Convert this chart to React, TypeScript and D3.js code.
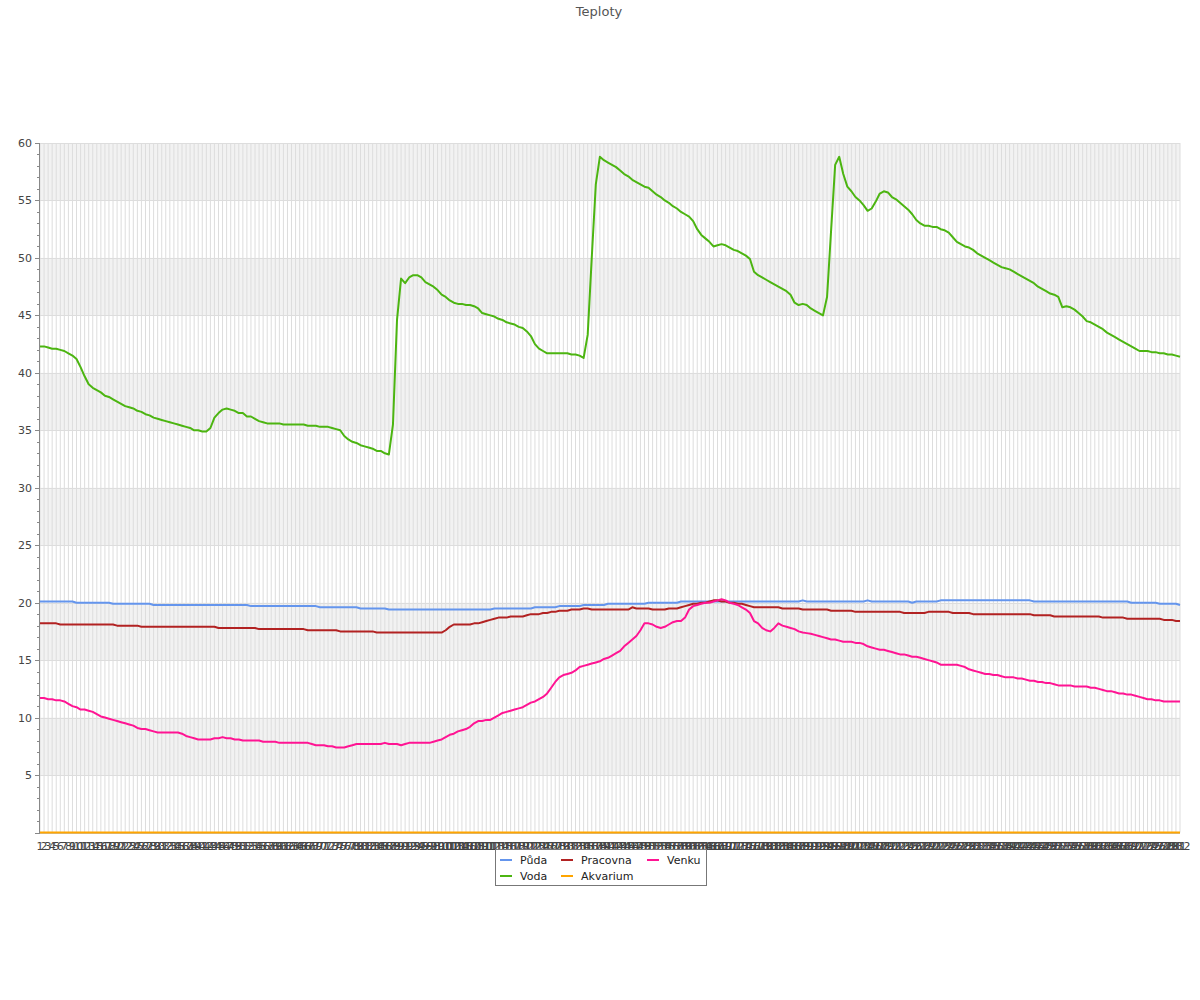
import { useEffect, useRef } from "react";
import * as d3 from "d3";

// category labels 1..282 (one per measurement)
const categories = d3.range(1, 283).map(String);

const puda = [
  20.1, 20.1, 20.1, 20.1, 20.1, 20.1, 20.1, 20.1, 20.1, 20.0,
  20.0, 20.0, 20.0, 20.0, 20.0, 20.0, 20.0, 20.0, 19.9, 19.9,
  19.9, 19.9, 19.9, 19.9, 19.9, 19.9, 19.9, 19.9, 19.8, 19.8,
  19.8, 19.8, 19.8, 19.8, 19.8, 19.8, 19.8, 19.8, 19.8, 19.8,
  19.8, 19.8, 19.8, 19.8, 19.8, 19.8, 19.8, 19.8, 19.8, 19.8,
  19.8, 19.8, 19.7, 19.7, 19.7, 19.7, 19.7, 19.7, 19.7, 19.7,
  19.7, 19.7, 19.7, 19.7, 19.7, 19.7, 19.7, 19.7, 19.7, 19.6,
  19.6, 19.6, 19.6, 19.6, 19.6, 19.6, 19.6, 19.6, 19.6, 19.5,
  19.5, 19.5, 19.5, 19.5, 19.5, 19.5, 19.4, 19.4, 19.4, 19.4,
  19.4, 19.4, 19.4, 19.4, 19.4, 19.4, 19.4, 19.4, 19.4, 19.4,
  19.4, 19.4, 19.4, 19.4, 19.4, 19.4, 19.4, 19.4, 19.4, 19.4,
  19.4, 19.4, 19.5, 19.5, 19.5, 19.5, 19.5, 19.5, 19.5, 19.5,
  19.5, 19.5, 19.6, 19.6, 19.6, 19.6, 19.6, 19.6, 19.7, 19.7,
  19.7, 19.7, 19.7, 19.7, 19.8, 19.8, 19.8, 19.8, 19.8, 19.8,
  19.9, 19.9, 19.9, 19.9, 19.9, 19.9, 19.9, 19.9, 19.9, 19.9,
  20.0, 20.0, 20.0, 20.0, 20.0, 20.0, 20.0, 20.0, 20.1, 20.1,
  20.1, 20.1, 20.1, 20.1, 20.1, 20.1, 20.1, 20.1, 20.1, 20.1,
  20.1, 20.1, 20.1, 20.1, 20.1, 20.1, 20.1, 20.1, 20.1, 20.1,
  20.1, 20.1, 20.1, 20.1, 20.1, 20.1, 20.1, 20.1, 20.2, 20.1,
  20.1, 20.1, 20.1, 20.1, 20.1, 20.1, 20.1, 20.1, 20.1, 20.1,
  20.1, 20.1, 20.1, 20.1, 20.2, 20.1, 20.1, 20.1, 20.1, 20.1,
  20.1, 20.1, 20.1, 20.1, 20.1, 20.0, 20.1, 20.1, 20.1, 20.1,
  20.1, 20.1, 20.2, 20.2, 20.2, 20.2, 20.2, 20.2, 20.2, 20.2,
  20.2, 20.2, 20.2, 20.2, 20.2, 20.2, 20.2, 20.2, 20.2, 20.2,
  20.2, 20.2, 20.2, 20.2, 20.2, 20.1, 20.1, 20.1, 20.1, 20.1,
  20.1, 20.1, 20.1, 20.1, 20.1, 20.1, 20.1, 20.1, 20.1, 20.1,
  20.1, 20.1, 20.1, 20.1, 20.1, 20.1, 20.1, 20.1, 20.1, 20.0,
  20.0, 20.0, 20.0, 20.0, 20.0, 20.0, 19.9, 19.9, 19.9, 19.9,
  19.9, 19.8,
];

const voda = [
  42.3, 42.3, 42.2, 42.1, 42.1, 42.0, 41.9, 41.7, 41.5, 41.2,
  40.5, 39.7, 39.0, 38.7, 38.5, 38.3, 38.0, 37.9, 37.7, 37.5,
  37.3, 37.1, 37.0, 36.9, 36.7, 36.6, 36.4, 36.3, 36.1, 36.0,
  35.9, 35.8, 35.7, 35.6, 35.5, 35.4, 35.3, 35.2, 35.0, 35.0,
  34.9, 34.9, 35.2, 36.1, 36.5, 36.8, 36.9, 36.8, 36.7, 36.5,
  36.5, 36.2, 36.2, 36.0, 35.8, 35.7, 35.6, 35.6, 35.6, 35.6,
  35.5, 35.5, 35.5, 35.5, 35.5, 35.5, 35.4, 35.4, 35.4, 35.3,
  35.3, 35.3, 35.2, 35.1, 35.0, 34.5, 34.2, 34.0, 33.9, 33.7,
  33.6, 33.5, 33.4, 33.2, 33.2, 33.0, 32.9, 35.5, 44.6, 48.2,
  47.8, 48.3, 48.5, 48.5, 48.3, 47.9, 47.7, 47.5, 47.2, 46.8,
  46.6, 46.3, 46.1, 46.0, 46.0, 45.9, 45.9, 45.8, 45.6, 45.2,
  45.1, 45.0, 44.9, 44.7, 44.6, 44.4, 44.3, 44.2, 44.0, 43.9,
  43.6, 43.2, 42.5, 42.1, 41.9, 41.7, 41.7, 41.7, 41.7, 41.7,
  41.7, 41.6, 41.6, 41.5, 41.3, 43.3, 50.0, 56.4, 58.8, 58.5,
  58.3, 58.1, 57.9, 57.6, 57.3, 57.1, 56.8, 56.6, 56.4, 56.2,
  56.1, 55.8, 55.5, 55.3, 55.0, 54.8, 54.5, 54.3, 54.0, 53.8,
  53.6, 53.2, 52.5, 52.0, 51.7, 51.4, 51.0, 51.1, 51.2, 51.1,
  50.9, 50.7, 50.6, 50.4, 50.2, 49.9, 48.8, 48.5, 48.3, 48.1,
  47.9, 47.7, 47.5, 47.3, 47.1, 46.8, 46.1, 45.9, 46.0, 45.9,
  45.6, 45.4, 45.2, 45.0, 46.6, 52.4, 58.1, 58.8, 57.3, 56.2,
  55.8, 55.3, 55.0, 54.6, 54.1, 54.3, 54.9, 55.6, 55.8, 55.7,
  55.3, 55.1, 54.8, 54.5, 54.2, 53.8, 53.3, 53.0, 52.8, 52.8,
  52.7, 52.7, 52.5, 52.4, 52.2, 51.8, 51.4, 51.2, 51.0, 50.9,
  50.7, 50.4, 50.2, 50.0, 49.8, 49.6, 49.4, 49.2, 49.1, 49.0,
  48.8, 48.6, 48.4, 48.2, 48.0, 47.8, 47.5, 47.3, 47.1, 46.9,
  46.8, 46.6, 45.7, 45.8, 45.7, 45.5, 45.2, 44.9, 44.5, 44.4,
  44.2, 44.0, 43.8, 43.5, 43.3, 43.1, 42.9, 42.7, 42.5, 42.3,
  42.1, 41.9, 41.9, 41.9, 41.8, 41.8, 41.7, 41.7, 41.6, 41.6,
  41.5, 41.4,
];

const pracovna = [
  18.2, 18.2, 18.2, 18.2, 18.2, 18.1, 18.1, 18.1, 18.1, 18.1,
  18.1, 18.1, 18.1, 18.1, 18.1, 18.1, 18.1, 18.1, 18.1, 18.0,
  18.0, 18.0, 18.0, 18.0, 18.0, 17.9, 17.9, 17.9, 17.9, 17.9,
  17.9, 17.9, 17.9, 17.9, 17.9, 17.9, 17.9, 17.9, 17.9, 17.9,
  17.9, 17.9, 17.9, 17.9, 17.8, 17.8, 17.8, 17.8, 17.8, 17.8,
  17.8, 17.8, 17.8, 17.8, 17.7, 17.7, 17.7, 17.7, 17.7, 17.7,
  17.7, 17.7, 17.7, 17.7, 17.7, 17.7, 17.6, 17.6, 17.6, 17.6,
  17.6, 17.6, 17.6, 17.6, 17.5, 17.5, 17.5, 17.5, 17.5, 17.5,
  17.5, 17.5, 17.5, 17.4, 17.4, 17.4, 17.4, 17.4, 17.4, 17.4,
  17.4, 17.4, 17.4, 17.4, 17.4, 17.4, 17.4, 17.4, 17.4, 17.4,
  17.6, 17.9, 18.1, 18.1, 18.1, 18.1, 18.1, 18.2, 18.2, 18.3,
  18.4, 18.5, 18.6, 18.7, 18.7, 18.7, 18.8, 18.8, 18.8, 18.8,
  18.9, 19.0, 19.0, 19.0, 19.1, 19.1, 19.2, 19.2, 19.3, 19.3,
  19.3, 19.4, 19.4, 19.4, 19.5, 19.5, 19.4, 19.4, 19.4, 19.4,
  19.4, 19.4, 19.4, 19.4, 19.4, 19.4, 19.6, 19.5, 19.5, 19.5,
  19.5, 19.4, 19.4, 19.4, 19.4, 19.5, 19.5, 19.5, 19.6, 19.7,
  19.8, 19.9, 19.9, 20.0, 20.0, 20.1, 20.2, 20.2, 20.1, 20.1,
  20.0, 20.0, 19.9, 19.9, 19.8, 19.7, 19.6, 19.6, 19.6, 19.6,
  19.6, 19.6, 19.6, 19.5, 19.5, 19.5, 19.5, 19.5, 19.4, 19.4,
  19.4, 19.4, 19.4, 19.4, 19.4, 19.3, 19.3, 19.3, 19.3, 19.3,
  19.3, 19.2, 19.2, 19.2, 19.2, 19.2, 19.2, 19.2, 19.2, 19.2,
  19.2, 19.2, 19.2, 19.1, 19.1, 19.1, 19.1, 19.1, 19.1, 19.2,
  19.2, 19.2, 19.2, 19.2, 19.2, 19.1, 19.1, 19.1, 19.1, 19.1,
  19.0, 19.0, 19.0, 19.0, 19.0, 19.0, 19.0, 19.0, 19.0, 19.0,
  19.0, 19.0, 19.0, 19.0, 19.0, 18.9, 18.9, 18.9, 18.9, 18.9,
  18.8, 18.8, 18.8, 18.8, 18.8, 18.8, 18.8, 18.8, 18.8, 18.8,
  18.8, 18.8, 18.7, 18.7, 18.7, 18.7, 18.7, 18.7, 18.6, 18.6,
  18.6, 18.6, 18.6, 18.6, 18.6, 18.6, 18.6, 18.5, 18.5, 18.5,
  18.4, 18.4,
];

const akvarium = [
  0, 0, 0, 0, 0, 0, 0, 0, 0, 0, 0, 0, 0, 0, 0, 0, 0, 0, 0, 0,
  0, 0, 0, 0, 0, 0, 0, 0, 0, 0, 0, 0, 0, 0, 0, 0, 0, 0, 0, 0,
  0, 0, 0, 0, 0, 0, 0, 0, 0, 0, 0, 0, 0, 0, 0, 0, 0, 0, 0, 0,
  0, 0, 0, 0, 0, 0, 0, 0, 0, 0, 0, 0, 0, 0, 0, 0, 0, 0, 0, 0,
  0, 0, 0, 0, 0, 0, 0, 0, 0, 0, 0, 0, 0, 0, 0, 0, 0, 0, 0, 0,
  0, 0, 0, 0, 0, 0, 0, 0, 0, 0, 0, 0, 0, 0, 0, 0, 0, 0, 0, 0,
  0, 0, 0, 0, 0, 0, 0, 0, 0, 0, 0, 0, 0, 0, 0, 0, 0, 0, 0, 0,
  0, 0, 0, 0, 0, 0, 0, 0, 0, 0, 0, 0, 0, 0, 0, 0, 0, 0, 0, 0,
  0, 0, 0, 0, 0, 0, 0, 0, 0, 0, 0, 0, 0, 0, 0, 0, 0, 0, 0, 0,
  0, 0, 0, 0, 0, 0, 0, 0, 0, 0, 0, 0, 0, 0, 0, 0, 0, 0, 0, 0,
  0, 0, 0, 0, 0, 0, 0, 0, 0, 0, 0, 0, 0, 0, 0, 0, 0, 0, 0, 0,
  0, 0, 0, 0, 0, 0, 0, 0, 0, 0, 0, 0, 0, 0, 0, 0, 0, 0, 0, 0,
  0, 0, 0, 0, 0, 0, 0, 0, 0, 0, 0, 0, 0, 0, 0, 0, 0, 0, 0, 0,
  0, 0, 0, 0, 0, 0, 0, 0, 0, 0, 0, 0, 0, 0, 0, 0, 0, 0, 0, 0,
  0, 0,
];

const venku = [
  11.7, 11.7, 11.6, 11.6, 11.5, 11.5, 11.4, 11.2, 11.0, 10.9,
  10.7, 10.7, 10.6, 10.5, 10.3, 10.1, 10.0, 9.9, 9.8, 9.7,
  9.6, 9.5, 9.4, 9.3, 9.1, 9.0, 9.0, 8.9, 8.8, 8.7,
  8.7, 8.7, 8.7, 8.7, 8.7, 8.6, 8.4, 8.3, 8.2, 8.1,
  8.1, 8.1, 8.1, 8.2, 8.2, 8.3, 8.2, 8.2, 8.1, 8.1,
  8.0, 8.0, 8.0, 8.0, 8.0, 7.9, 7.9, 7.9, 7.9, 7.8,
  7.8, 7.8, 7.8, 7.8, 7.8, 7.8, 7.8, 7.7, 7.6, 7.6,
  7.6, 7.5, 7.5, 7.4, 7.4, 7.4, 7.5, 7.6, 7.7, 7.7,
  7.7, 7.7, 7.7, 7.7, 7.7, 7.8, 7.7, 7.7, 7.7, 7.6,
  7.7, 7.8, 7.8, 7.8, 7.8, 7.8, 7.8, 7.9, 8.0, 8.1,
  8.3, 8.5, 8.6, 8.8, 8.9, 9.0, 9.2, 9.5, 9.7, 9.7,
  9.8, 9.8, 10.0, 10.2, 10.4, 10.5, 10.6, 10.7, 10.8, 10.9,
  11.1, 11.3, 11.4, 11.6, 11.8, 12.1, 12.6, 13.1, 13.5, 13.7,
  13.8, 13.9, 14.1, 14.4, 14.5, 14.6, 14.7, 14.8, 14.9, 15.1,
  15.2, 15.4, 15.6, 15.8, 16.2, 16.5, 16.8, 17.1, 17.6, 18.2,
  18.2, 18.1, 17.9, 17.8, 17.9, 18.1, 18.3, 18.4, 18.4, 18.7,
  19.4, 19.7, 19.8, 19.9, 20.0, 20.0, 20.1, 20.2, 20.3, 20.2,
  20.0, 19.9, 19.8, 19.6, 19.4, 19.1, 18.4, 18.2, 17.8, 17.6,
  17.5, 17.8, 18.2, 18.0, 17.9, 17.8, 17.7, 17.5, 17.4, 17.35,
  17.3, 17.2, 17.1, 17.0, 16.9, 16.8, 16.8, 16.7, 16.6, 16.6,
  16.6, 16.5, 16.5, 16.4, 16.2, 16.1, 16.0, 15.9, 15.9, 15.8,
  15.7, 15.6, 15.5, 15.5, 15.4, 15.3, 15.3, 15.2, 15.1, 15.0,
  14.9, 14.8, 14.6, 14.6, 14.6, 14.6, 14.6, 14.5, 14.4, 14.2,
  14.1, 14.0, 13.9, 13.8, 13.8, 13.7, 13.7, 13.6, 13.5, 13.5,
  13.5, 13.4, 13.4, 13.3, 13.2, 13.2, 13.1, 13.1, 13.0, 13.0,
  12.9, 12.8, 12.8, 12.8, 12.8, 12.7, 12.7, 12.7, 12.7, 12.6,
  12.6, 12.5, 12.4, 12.3, 12.3, 12.2, 12.1, 12.1, 12.0, 12.0,
  11.9, 11.8, 11.7, 11.6, 11.6, 11.5, 11.5, 11.4, 11.4, 11.4,
  11.4, 11.4,
];

const yTicks = [5, 10, 15, 20, 25, 30, 35, 40, 45, 50, 55, 60];

const series = [
  { name: "Půda", color: "#6495ed", values: puda },
  { name: "Voda", color: "#4cb511", values: voda },
  { name: "Pracovna", color: "#b22222", values: pracovna },
  { name: "Akvarium", color: "#ffa500", values: akvarium },
  { name: "Venku", color: "#ff1493", values: venku },
];

const FONT = "'DejaVu Sans', Verdana, sans-serif";

export default function App() {
  const svgRef = useRef<SVGSVGElement>(null);

  useEffect(() => {
    if (!svgRef.current) return;
    const svg = d3.select(svgRef.current);
    svg.selectAll("*").remove();

    const left = 40;
    const right = 1180;
    const top = 143;
    const bottom = 832.5;

    const x = d3.scalePoint<string>().domain(categories).range([left, right]);
    const y = d3.scaleLinear().domain([0, 60]).range([bottom, top]);

    // title
    svg
      .append("text")
      .attr("x", 599)
      .attr("y", 16)
      .attr("text-anchor", "middle")
      .attr("font-family", FONT)
      .attr("font-size", 13)
      .attr("fill", "#555")
      .text("Teploty");

    // alternating bands
    svg
      .append("g")
      .selectAll("rect")
      .data(yTicks.filter((t) => t % 10 === 5))
      .join("rect")
      .attr("x", left)
      .attr("width", right - left)
      .attr("y", (d) => y(d + 5))
      .attr("height", (d) => y(d) - y(d + 5))
      .attr("fill", "#f2f2f2");

    // vertical grid per category
    svg
      .append("g")
      .selectAll("line")
      .data(categories)
      .join("line")
      .attr("x1", (d) => x(d)!)
      .attr("x2", (d) => x(d)!)
      .attr("y1", top)
      .attr("y2", bottom)
      .attr("stroke", "#dddddd")
      .attr("stroke-width", 1);

    // horizontal grid
    svg
      .append("g")
      .selectAll("line")
      .data(yTicks)
      .join("line")
      .attr("x1", left)
      .attr("x2", right)
      .attr("y1", (d) => Math.round(y(d)) + 0.5)
      .attr("y2", (d) => Math.round(y(d)) + 0.5)
      .attr("stroke", "#dddddd");

    // y axis
    const yAxis = svg.append("g");
    yAxis
      .append("line")
      .attr("x1", left - 0.5)
      .attr("x2", left - 0.5)
      .attr("y1", top)
      .attr("y2", bottom + 0.5)
      .attr("stroke", "#888");
    yAxis
      .selectAll("line.minor")
      .data(d3.range(0, 61))
      .join("line")
      .attr("class", "minor")
      .attr("x1", (d) => (d % 5 === 0 ? left - 5 : left - 3))
      .attr("x2", left)
      .attr("y1", (d) => Math.round(y(d)) + 0.5)
      .attr("y2", (d) => Math.round(y(d)) + 0.5)
      .attr("stroke", "#888");
    yAxis
      .selectAll("text")
      .data(yTicks)
      .join("text")
      .attr("x", left - 8)
      .attr("y", (d) => y(d) + 4)
      .attr("text-anchor", "end")
      .attr("font-family", FONT)
      .attr("font-size", 11)
      .attr("fill", "#444")
      .text((d) => d);

    // x axis
    svg
      .append("line")
      .attr("x1", left)
      .attr("x2", right)
      .attr("y1", bottom + 0.5)
      .attr("y2", bottom + 0.5)
      .attr("stroke", "#888");
    svg
      .append("g")
      .selectAll("text")
      .data(categories)
      .join("text")
      .attr("x", (d) => x(d)!)
      .attr("y", 850)
      .attr("text-anchor", "middle")
      .attr("font-family", FONT)
      .attr("font-size", 11)
      .attr("fill", "#444")
      .text((d) => d);

    // lines
    const line = d3
      .line<number>()
      .x((_, i) => x(categories[i])!)
      .y((d) => y(d));

    svg
      .append("g")
      .selectAll("path")
      .data(series)
      .join("path")
      .attr("fill", "none")
      .attr("stroke", (d) => d.color)
      .attr("stroke-width", 2)
      .attr("stroke-linejoin", "round")
      .attr("d", (d) => line(d.values));

    // legend
    const legend = svg.append("g");
    legend
      .append("rect")
      .attr("x", 495.5)
      .attr("y", 849.5)
      .attr("width", 211)
      .attr("height", 36)
      .attr("fill", "#fff")
      .attr("stroke", "#777");
    const colX = [500, 561, 647];
    const rowY = [860, 876];
    series.forEach((s, i) => {
      const cx = colX[Math.floor(i / 2)];
      const cy = rowY[i % 2];
      legend
        .append("line")
        .attr("x1", cx)
        .attr("x2", cx + 12)
        .attr("y1", cy)
        .attr("y2", cy)
        .attr("stroke", s.color)
        .attr("stroke-width", 2);
      legend
        .append("text")
        .attr("x", cx + 20)
        .attr("y", cy + 4)
        .attr("font-family", FONT)
        .attr("font-size", 11)
        .attr("fill", "#222")
        .text(s.name);
    });
  }, []);

  return (
    <svg
      ref={svgRef}
      width={1200}
      height={1000}
      style={{ position: "absolute", left: 0, top: 0, background: "#fff" }}
    />
  );
}
